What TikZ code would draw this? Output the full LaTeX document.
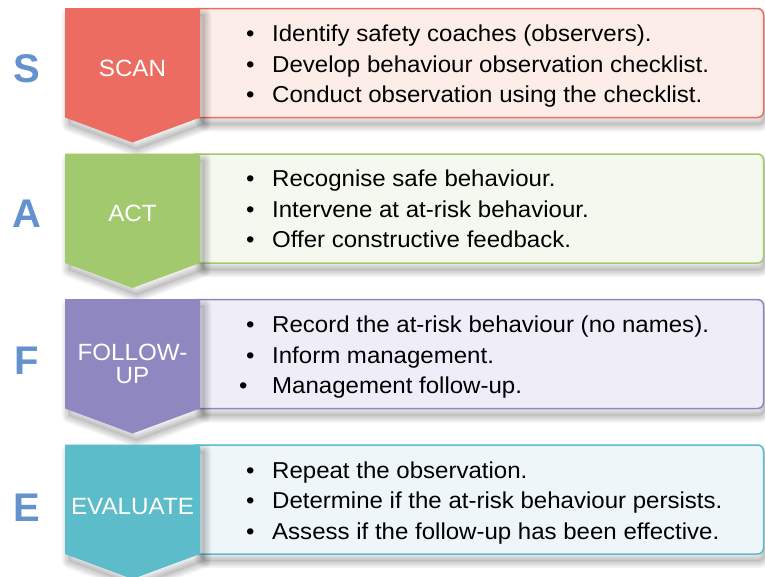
\documentclass[tikz,border=0pt]{standalone}
\usepackage{fontspec}
\setmainfont{Liberation Sans}
\newfontfamily\itemfont{Liberation Sans}[FakeStretch=1.045]
\newfontfamily\chevfont{Liberation Sans}[FakeStretch=1.03]
\definecolor{cS}{RGB}{236,108,98}
\definecolor{cA}{RGB}{163,201,110}
\definecolor{cF}{RGB}{143,135,192}
\definecolor{cE}{RGB}{92,188,202}
\definecolor{fS}{RGB}{252,237,233}
\definecolor{fA}{RGB}{244,248,239}
\definecolor{fF}{RGB}{239,237,248}
\definecolor{fE}{RGB}{238,246,249}
\definecolor{letterblue}{RGB}{100,146,206}
\newcommand{\bulitem}[1]{\makebox[26pt][l]{\textbullet}#1}
\newcommand{\softshadow}[3]{%
  \begin{scope}[shift={(#1)}]
    \foreach \w in {14,11,8,5,2} {\draw[black, opacity=0.045, line width=\w pt, line join=round, #2] #3;}
    \fill[black, opacity=0.05, #2] #3;
  \end{scope}}
\begin{document}
\begin{tikzpicture}[x=1pt,y=-1pt,
  infobox/.style={rounded corners=6pt, line width=1.5pt},
  itemtext/.style={anchor=base west, inner sep=0pt, font=\itemfont\fontsize{23}{27}\selectfont, text=black},
  chevtext/.style={inner sep=0pt, font=\chevfont\fontsize{23.5}{23}\selectfont, text=white, align=center},
  bigletter/.style={inner sep=0pt, font=\fontsize{40}{40}\selectfont\bfseries, text=letterblue}]
\useasboundingbox (0,0) rectangle (765,576);
\clip (0,0) rectangle (765,576);
\fill[white] (0,0) rectangle (765,576);

\foreach \t/\cc/\ff in {8/cS/fS, 153.5/cA/fA, 299/cF/fF, 444.5/cE/fE} {
  \pgfmathsetmacro{\bot}{\t+109.5}
  \pgfmathsetmacro{\tip}{\t+134.5}
  \softshadow{1,7}{rounded corners=6pt}{(200,\t) -- (763.5,\t) -- (763.5,\bot) -- (200,\bot) -- cycle}
  \path[infobox, draw=\cc, fill=\ff] (190,\t+0.5) -- (763.5,\t+0.5) -- (763.5,\bot) -- (190,\bot) -- cycle;
  \softshadow{4,7}{}{(65,\t) -- (200,\t) -- (200,\bot) -- (132.5,\tip) -- (65,\bot) -- cycle}
  \path[fill=\cc] (65,\t) -- (200,\t) -- (200,\bot) -- (132.5,\tip) -- (65,\bot) -- cycle;
}

% Row S
\node[chevtext] (scan) at (132.5,68.5) {SCAN};
\node[bigletter] (S) at (27,68.5) {S};
\node[itemtext] (s1) at (246,41) {\bulitem{Identify safety coaches (observers).}};
\node[itemtext] (s2) at (246,72) {\bulitem{Develop behaviour observation checklist.}};
\node[itemtext] (s3) at (246,102.5) {\bulitem{Conduct observation using the checklist.}};

% Row A
\node[chevtext] (act) at (132.5,213.5) {ACT};
\node[bigletter] (A) at (27,214) {A};
\node[itemtext] (a1) at (246,186.5) {\bulitem{Recognise safe behaviour.}};
\node[itemtext] (a2) at (246,217) {\bulitem{Intervene at at-risk behaviour.}};
\node[itemtext] (a3) at (246,247.5) {\bulitem{Offer constructive feedback.}};

% Row F
\node[chevtext] (follow) at (132.5,363.5) {FOLLOW-\\UP};
\node[bigletter] (F) at (27,360.5) {F};
\node[itemtext] (f1) at (246,332.5) {\bulitem{Record the at-risk behaviour (no names).}};
\node[itemtext] (f2) at (246,363) {\bulitem{Inform management.}};
\node[itemtext] (f3) at (239,393.5) {\makebox[33pt][l]{\textbullet}Management follow-up.};

% Row E
\node[chevtext] (eval) at (132.5,507) {EVALUATE};
\node[bigletter] (E) at (27,507.5) {E};
\node[itemtext] (e1) at (246,478) {\bulitem{Repeat the observation.}};
\node[itemtext] (e2) at (246,508.5) {\bulitem{Determine if the at-risk behaviour persists.}};
\node[itemtext] (e3) at (246,539) {\bulitem{Assess if the follow-up has been effective.}};
\end{tikzpicture}
\end{document}
